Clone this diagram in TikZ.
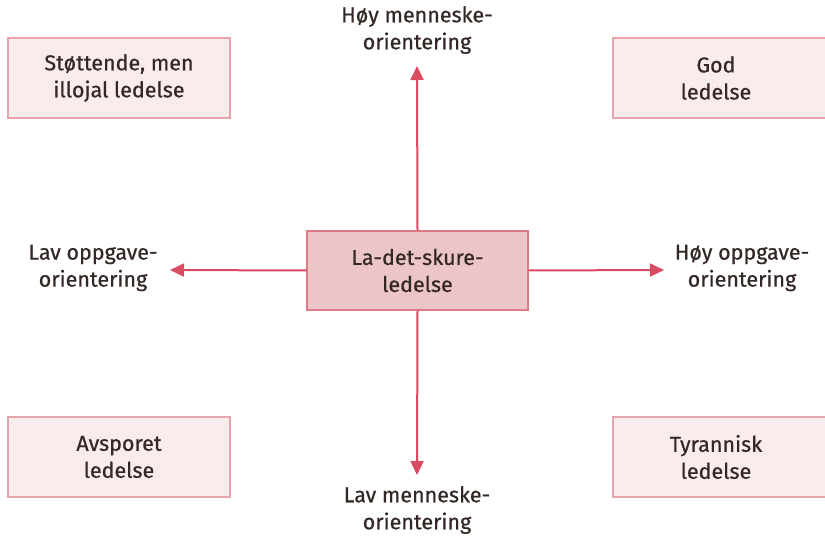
\documentclass[tikz,border=0pt]{standalone}
\usepackage{fontspec}
\setmainfont{Fira Sans}[FakeBold=0.6]
\usetikzlibrary{arrows.meta}
\definecolor{txt}{HTML}{342826}
\definecolor{boxfill}{HTML}{F8ECEC}
\definecolor{boxline}{HTML}{E6A3AA}
\definecolor{cfill}{HTML}{ECC5C8}
\definecolor{cline}{HTML}{E07A86}
\definecolor{arr}{HTML}{DA4A60}
\tikzset{
  lbl/.style={text=txt, font=\fontsize{21.5}{27}\selectfont, align=center},
  outer/.style={lbl, draw=boxline, fill=boxfill, line width=1.3pt, minimum width=222pt, minimum height=80pt, inner sep=0pt},
  center/.style={lbl, draw=cline, fill=cfill, line width=1.3pt, minimum width=221pt, minimum height=79pt, inner sep=0pt},
  axis/.style={draw=arr, line width=2pt, -{Triangle[length=14pt,width=13pt]}}
}
\begin{document}
\begin{tikzpicture}[x=1pt,y=-1pt]
\useasboundingbox (0,0) rectangle (825,537);
\node[outer] (tl) at (119,78) {Støttende, men\\illojal ledelse};
\node[outer] (tr) at (724,78) {\hspace*{-16pt}God\\\hspace*{-16pt}ledelse};
\node[outer] (bl) at (119,457) {Avsporet\\ledelse};
\node[outer] (br) at (724,457) {\hspace*{-16pt}Tyrannisk\\\hspace*{-16pt}ledelse};
\node[center] (c) at (417.5,270.5) {La-det-skure-\\ledelse};
\node[lbl] (top) at (417,30) {Høy menneske-\\orientering};
\node[lbl] (bot) at (417,510) {Lav menneske-\\orientering};
\node[lbl] (lft) at (93,268) {Lav oppgave-\\orientering};
\node[lbl] (rgt) at (742,268) {Høy oppgave-\\orientering};
\coordinate (tA) at (417,66);
\coordinate (bA) at (417,475);
\coordinate (lA) at (170,270);
\coordinate (rA) at (664,270);
\draw[axis] (c.north) -- (tA);
\draw[axis] (c.south) -- (bA);
\draw[axis] (c.west) -- (lA);
\draw[axis] (c.east) -- (rA);
\end{tikzpicture}
\end{document}
